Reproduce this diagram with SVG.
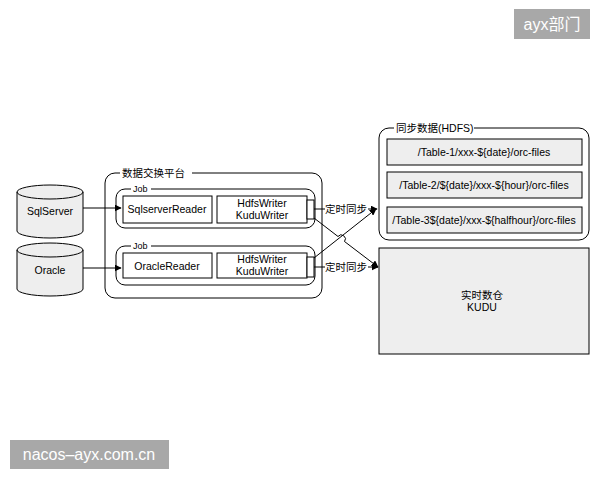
<svg xmlns="http://www.w3.org/2000/svg" width="600" height="480" viewBox="0 0 600 480">
<defs>
<style>
text{font-family:"Liberation Sans",Arial,"Noto Sans CJK SC",sans-serif;fill:#000}
.t{font-size:10.5px;text-anchor:middle}
.c{font-size:10.5px}
.s{font-size:9px}
.box{fill:#fff;stroke:#000;stroke-width:1}
.gray{fill:#eeeeee;stroke:#000;stroke-width:1}
.ln{fill:none;stroke:#000;stroke-width:1}
.wm{fill:#a8a8a8}
.wt{font-size:16px;fill:#fff}
</style>
<marker id="ah" viewBox="0 0 10 10" refX="9" refY="5" markerWidth="7" markerHeight="7" orient="auto" markerUnits="userSpaceOnUse">
<path d="M0,0 L10,5 L0,10 z" fill="#000"/>
</marker>
</defs>
<rect width="600" height="480" fill="#fff"/>

<g id="sqlserver">
<path class="gray" d="M17,192 L17,231 A33,7 0 0 0 83,231 L83,192 A33,7 0 0 0 17,192 Z"/>
<path class="ln" d="M17,192 A33,7 0 0 0 83,192"/>
<text class="t" x="50" y="215">SqlServer</text>
</g>
<g id="oracle">
<path class="gray" d="M17,250 L17,289 A33,7 0 0 0 83,289 L83,250 A33,7 0 0 0 17,250 Z"/>
<path class="ln" d="M17,250 A33,7 0 0 0 83,250"/>
<text class="t" x="50" y="274">Oracle</text>
</g>

<g id="platform">
<rect class="box" x="105" y="173" width="217" height="125" rx="10"/>
<rect x="120" y="167" width="72" height="12" fill="#fff"/>
<text class="c" x="122" y="177">数据交换平台</text>
</g>

<g id="job1">
<rect class="box" x="116" y="189" width="199" height="39" rx="9"/>
<rect x="131" y="185" width="20" height="8" fill="#fff"/>
<text class="s" x="133" y="192">Job</text>
<rect class="box" x="123" y="196" width="89" height="27"/>
<text class="t" x="167" y="213">SqlserverReader</text>
<rect class="box" x="217" y="196" width="90" height="27"/>
<text class="t" x="262" y="207">HdfsWriter</text>
<text class="t" x="262" y="219">KuduWriter</text>
<rect class="box" x="307" y="200" width="7" height="19"/>
</g>

<g id="job2">
<rect class="box" x="116" y="246" width="199" height="39" rx="9"/>
<rect x="131" y="242" width="20" height="8" fill="#fff"/>
<text class="s" x="133" y="249">Job</text>
<rect class="box" x="123" y="253" width="89" height="25"/>
<text class="t" x="167" y="270">OracleReader</text>
<rect class="box" x="217" y="253" width="90" height="25"/>
<text class="t" x="262" y="263">HdfsWriter</text>
<text class="t" x="262" y="275">KuduWriter</text>
<rect class="box" x="307" y="257" width="7" height="20"/>
</g>

<g id="hdfs">
<rect class="box" x="379" y="128" width="210" height="112" rx="10"/>
<rect x="394" y="122" width="80" height="12" fill="#fff"/>
<text class="c" x="396" y="132">同步数据(HDFS)</text>
<rect class="gray" x="387" y="139" width="195" height="26"/>
<text class="t" x="484" y="156">/Table-1/xxx-${date}/orc-files</text>
<rect class="gray" x="387" y="172" width="195" height="26"/>
<text class="t" x="484" y="189">/Table-2/${date}/xxx-${hour}/orc-files</text>
<rect class="gray" x="387" y="207" width="195" height="26"/>
<text class="t" x="484" y="224">/Table-3${date}/xxx-${halfhour}/orc-files</text>
</g>

<g id="kudu">
<rect class="gray" x="379" y="248" width="210" height="106"/>
<text class="t" x="482" y="299">实时数仓</text>
<text class="t" x="482" y="311">KUDU</text>
</g>

<g id="connectors">
<line class="ln" x1="83" y1="208" x2="121" y2="208" marker-end="url(#ah)"/>
<line class="ln" x1="83" y1="268" x2="121" y2="268" marker-end="url(#ah)"/>
<path class="ln" d="M314,209 L377,209" marker-end="url(#ah)"/>
<path class="ln" d="M314,267 L378,267" marker-end="url(#ah)"/>
<path class="ln" d="M314,218 L338,236.5 A4,4 0 0 1 344.5,241.5 L378,267" marker-end="url(#ah)"/>
<path class="ln" d="M314,258 L376,209" marker-end="url(#ah)"/>
<rect x="325" y="202" width="43" height="13" fill="#fff"/>
<text class="c" x="325" y="213">定时同步</text>
<rect x="325" y="260" width="43" height="13" fill="#fff"/>
<text class="c" x="325" y="271">定时同步</text>
</g>

<g id="watermarks">
<rect class="wm" x="514" y="9" width="76" height="30"/>
<text class="wt" x="552" y="30" text-anchor="middle">ayx部门</text>
<rect class="wm" x="10" y="440" width="159" height="29"/>
<text class="wt" x="89" y="460" text-anchor="middle">nacos–ayx.com.cn</text>
</g>
</svg>
